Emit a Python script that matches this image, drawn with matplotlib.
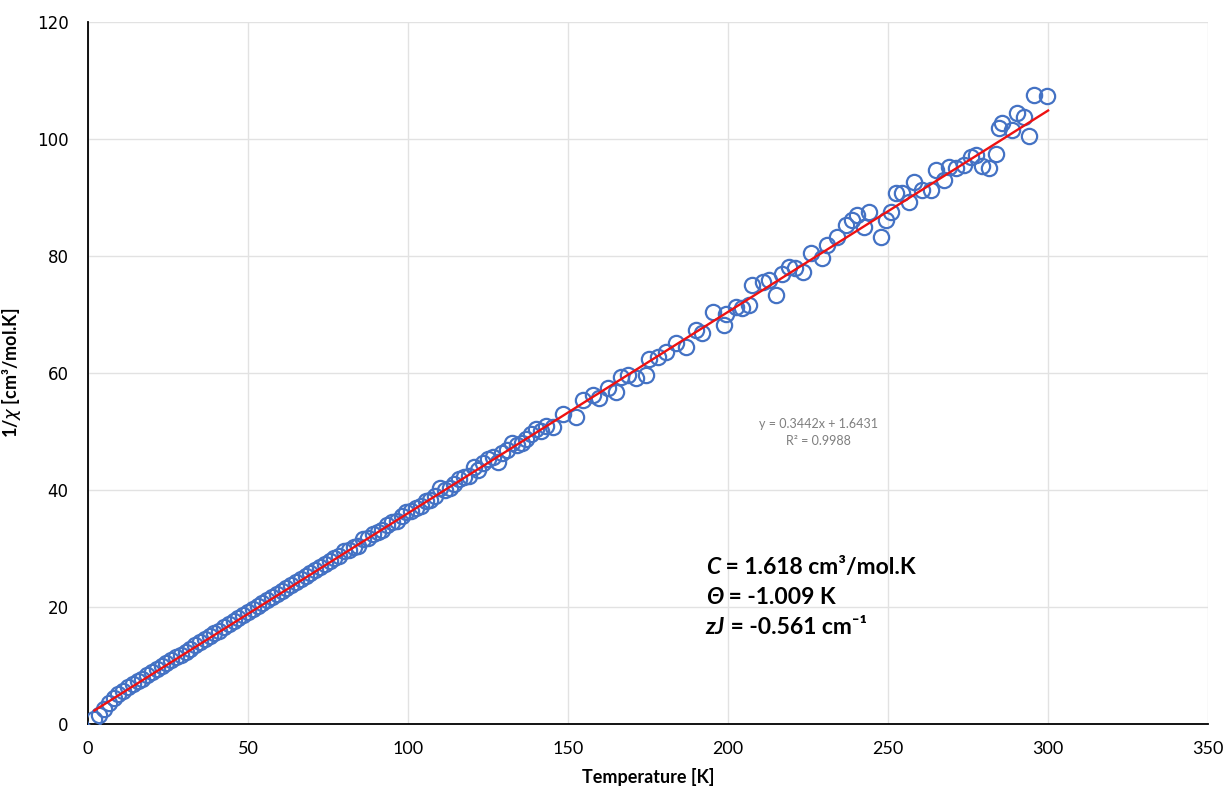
import numpy as np
import matplotlib.pyplot as plt

#Measured temperature [K]
temp = [2, 3.5, 5, 6.5, 8, 9.5, 11, 12.5, 14, 15.5, 17, 18.5, 20, 21.5, 23, 24.5, 26, 27.5, 29, 30.5,
        32, 33.5, 35, 36.5, 38, 39.5, 41, 42.5, 44, 45.5, 47, 48.5, 50, 51.5, 53, 54.5, 56, 57.5, 59, 60.5,
        62, 63.5, 65, 66.5, 68, 69.5, 71, 72.5, 74, 75.5, 77, 78.5, 80, 81.5, 83, 84.5, 86, 87.5, 89, 90.5,
        92, 93.5, 95, 96.5, 98, 99.5, 101, 102.5, 104, 105.5, 107, 108.5, 110, 111.5, 113, 114.5, 116, 117.5,
        119, 120.5, 122, 123.5, 125, 126.5, 128, 129.5, 131, 132.5, 134, 135.5, 137, 138.5, 140, 141.5, 143,
        145.2, 148.4, 152.5, 154.6, 157.7, 159.8, 162.4, 165.0, 166.6, 168.6, 171.3, 174.4, 175.4,
        178.0, 180.6, 183.7, 186.9, 190.0, 192.0, 195.2, 198.8, 199.3, 202.5, 204.5, 206.6, 207.6,
        210.8, 212.9, 214.9, 217.0, 219.1, 221.0, 223.3,
        226.0, 229.4, 231.0, 234.1, 236.9, 238.8, 240.3, 242.5, 244.0, 247.8, 249.4, 250.9, 252.5,
        254.4, 256.6, 258.1, 260.6, 263.4, 265.0, 267.5, 269.0, 271.2, 273.7, 275.9, 277.4, 279.4,
        281.5, 283.7, 284.6, 285.6, 288.7, 290.3, 292.5, 294.0, 295.6, 299.6]
#Inverse susceptibility 1/chi [cm3/mol.K]
inv_chi = [0.9, 1.5, 2.6, 3.6, 4.4, 5.1, 5.7, 6.3, 6.8, 7.3, 7.8, 8.4, 8.9, 9.4, 9.9, 10.4, 10.9, 11.4, 11.9, 12.4,
           12.9, 13.5, 14.0, 14.5, 15.0, 15.5, 16.0, 16.6, 17.1, 17.6, 18.1, 18.6, 19.1, 19.7, 20.2, 20.7, 21.2, 21.7, 22.2, 22.7,
           23.2, 23.8, 24.3, 24.8, 25.3, 25.8, 26.3, 26.9, 27.4, 27.9, 28.4, 28.8, 29.6, 29.8, 30.2, 30.4, 31.6, 31.9, 32.5, 32.9,
           33.2, 34.0, 34.5, 34.8, 35.6, 36.2, 36.5, 36.9, 37.3, 38.2, 38.4, 39.0, 40.3, 40.0, 40.3, 41.0, 41.9, 42.3,
           42.5, 43.9, 43.5, 44.6, 45.4, 45.6, 44.9, 46.3, 46.8, 48.1, 47.7, 48.0, 48.7, 49.6, 50.5, 50.2, 50.9,
           50.8, 53.1, 52.5, 55.4, 56.2, 55.7, 57.4, 56.8, 59.4, 59.7, 59.1, 59.7, 62.5,
           62.8, 63.6, 65.1, 64.5, 67.4, 66.8, 70.5, 68.2, 70.2, 71.3, 71.1, 71.6, 75.0,
           75.6, 75.9, 73.3, 77.0, 78.2, 78.0, 77.3,
           80.5, 79.7, 81.9, 83.2, 85.3, 86.2, 87.0, 85.0, 87.5, 83.2, 86.2, 87.5, 90.8,
           90.8, 89.2, 92.6, 91.3, 91.3, 94.7, 93.0, 95.2, 95.0, 95.6, 96.9, 97.3, 95.4,
           95.0, 97.4, 101.9, 102.7, 101.5, 104.4, 103.8, 100.5, 107.5, 107.4]

#Linear trendline from the spreadsheet
fit_slope = 0.3442
fit_intercept = 1.6431
fit_range = [2, 300]

font = ["Lato", "DejaVu Sans"]
plt.rcParams["font.family"] = font

fig, ax = plt.subplots(figsize=(12.29, 7.94), dpi=100)
fig.subplots_adjust(left=0.0716, right=0.983, bottom=0.088, top=0.972)

ax.plot(temp, inv_chi, "o", mfc="none", mec="#4472C4", mew=1.6, ms=11, zorder=3)
xf = np.array(fit_range)
ax.plot(xf, fit_slope * xf + fit_intercept, color="#EE1111", lw=1.7, zorder=4)

ax.set_xlim(0, 350)
ax.set_ylim(0, 120)
ax.set_xticks(np.arange(0, 351, 50))
ax.set_yticks(np.arange(0, 121, 20))
ax.grid(True, color="#E2E2E2", lw=1.0)
ax.set_axisbelow(True)
for s in ["top", "right"]:
    ax.spines[s].set_visible(False)
for s in ["left", "bottom"]:
    ax.spines[s].set_linewidth(1.3)
ax.tick_params(length=0)
ax.tick_params(axis="x", pad=12, labelsize=13)
ax.tick_params(axis="y", pad=14, labelsize=12)
for lab in ax.get_yticklabels():
    lab.set_family("DejaVu Sans")
for lab in ax.get_xticklabels():
    lab.set_family(["Liberation Sans Narrow", "Lato"])

ax.set_xlabel("Temperature [K]", fontsize=13, fontweight="bold", labelpad=8)
ax.set_ylabel(r"1/$\it{\chi}$ [cm³/mol.K]", fontsize=13, fontweight="bold", labelpad=10)

#Trendline equation
ax.text(228.2, 51.3, "y = 0.3442x + 1.6431", color="#7F7F7F", fontsize=9, ha="center", va="center")
ax.text(228.2, 48.4, "R² = 0.9988", color="#7F7F7F", fontsize=9, ha="center", va="center")

#Curie-Weiss parameters
rows = [("C", " = 1.618 cm³/mol.K", 26.7),
        ("Θ", " = -1.009 K", 21.7),
        ("zJ", " = -0.561 cm⁻¹", 16.6)]
for sym, rest, yv in rows:
    t1 = ax.text(193, yv, sym, fontsize=16.5, fontweight="bold", fontstyle="italic",
                 va="center", ha="left")
    ax.annotate(rest, xy=(1, 0), xycoords=t1, va="bottom", ha="left",
                fontsize=16.5, fontweight="bold")

fig.savefig("out.png", dpi=100)
